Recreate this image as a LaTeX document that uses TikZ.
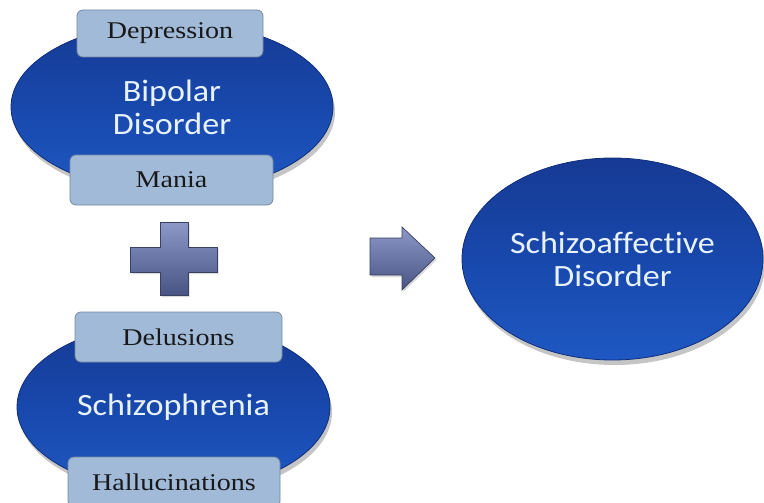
\documentclass[tikz,border=0pt]{standalone}
\usepackage{fontspec}
\usepackage{graphicx}
\setmainfont{Liberation Serif}
\newfontfamily\carlito[RawFeature={-liga;-clig;-dlig;-calt}]{Carlito}
\usetikzlibrary{shapes.geometric,shadows}
\definecolor{elltop}{RGB}{22,58,148}
\definecolor{ellmid}{RGB}{24,72,172}
\definecolor{ellbot}{RGB}{30,88,194}
\definecolor{ellline}{RGB}{16,46,122}
\definecolor{elltext}{RGB}{232,242,255}
\definecolor{boxfill}{RGB}{160,186,216}
\definecolor{boxline}{RGB}{118,136,160}
\definecolor{symtop}{RGB}{140,152,200}
\definecolor{symbot}{RGB}{72,84,132}
\definecolor{symline}{RGB}{58,64,96}
\tikzset{
  bigell/.style={ellipse, inner sep=0pt, top color=elltop, bottom color=ellbot, middle color=ellmid,
    draw=ellline, line width=0.8pt, text=elltext, align=center,
    font=\carlito\fontsize{31}{34}\selectfont,
    drop shadow={shadow xshift=2pt, shadow yshift=-5pt, fill=black!45, opacity=0.5}},
  tagbox/.style={rectangle, rounded corners=6pt, fill=boxfill, draw=boxline,
    line width=0.8pt, inner sep=0pt, text=black!90,
    font=\fontsize{24}{26}\selectfont},
  symshape/.style={top color=symtop, bottom color=symbot, draw=symline, line width=0.7pt,
    drop shadow={shadow xshift=1.5pt, shadow yshift=-2pt, fill=black!35, opacity=0.4}}
}
\newcommand{\wid}[1]{\scalebox{1.1}[1]{#1}}
\newcommand{\swid}[1]{\scalebox{1.17}[1]{#1}}
\begin{document}
\begin{tikzpicture}[x=1pt,y=-1pt]
\useasboundingbox (0,0) rectangle (764,503);
\clip (0,0) rectangle (764,503);
% Bipolar
\node[bigell, minimum width=322pt, minimum height=170pt] (bip) at (172,107)
  {\wid{Bipolar}\\[-1pt]\wid{Disorder}};
\node[tagbox, minimum width=186pt, minimum height=47pt] (dep) at (170,33.5) {\swid{Depression}};
\node[tagbox, minimum width=203pt, minimum height=50pt] (man) at (171.5,180) {\swid{Mania}};
% plus
\path[symshape] (160,222) -- (188,222) -- (188,247) -- (217,247) -- (217,272) -- (188,272)
  -- (188,295) -- (160,295) -- (160,272) -- (130,272) -- (130,247) -- (160,247) -- cycle;
\node[inner sep=0pt] (plus) at (173.5,258.5) {};
% Schizophrenia
\node[bigell, minimum width=313pt, minimum height=170pt] (sch) at (173.5,407)
  {\wid{Schizophrenia}};
\node[tagbox, minimum width=207pt, minimum height=50pt] (del) at (178.5,337) {\swid{Delusions}};
\node[tagbox, minimum width=212pt, minimum height=50pt] (hal) at (174,482) {\swid{Hallucinations}};
% arrow
\path[symshape] (370,238) -- (402,238) -- (402,227) -- (435,258) -- (402,290) -- (402,275)
  -- (370,275) -- cycle;
\node[inner sep=0pt] (arr) at (402,258) {};
% Schizoaffective
\node[bigell, minimum width=301pt, minimum height=202pt] (sa) at (612.5,259)
  {\wid{Schizoaffective}\\[-1pt]\wid{Disorder}};
\end{tikzpicture}
\end{document}
